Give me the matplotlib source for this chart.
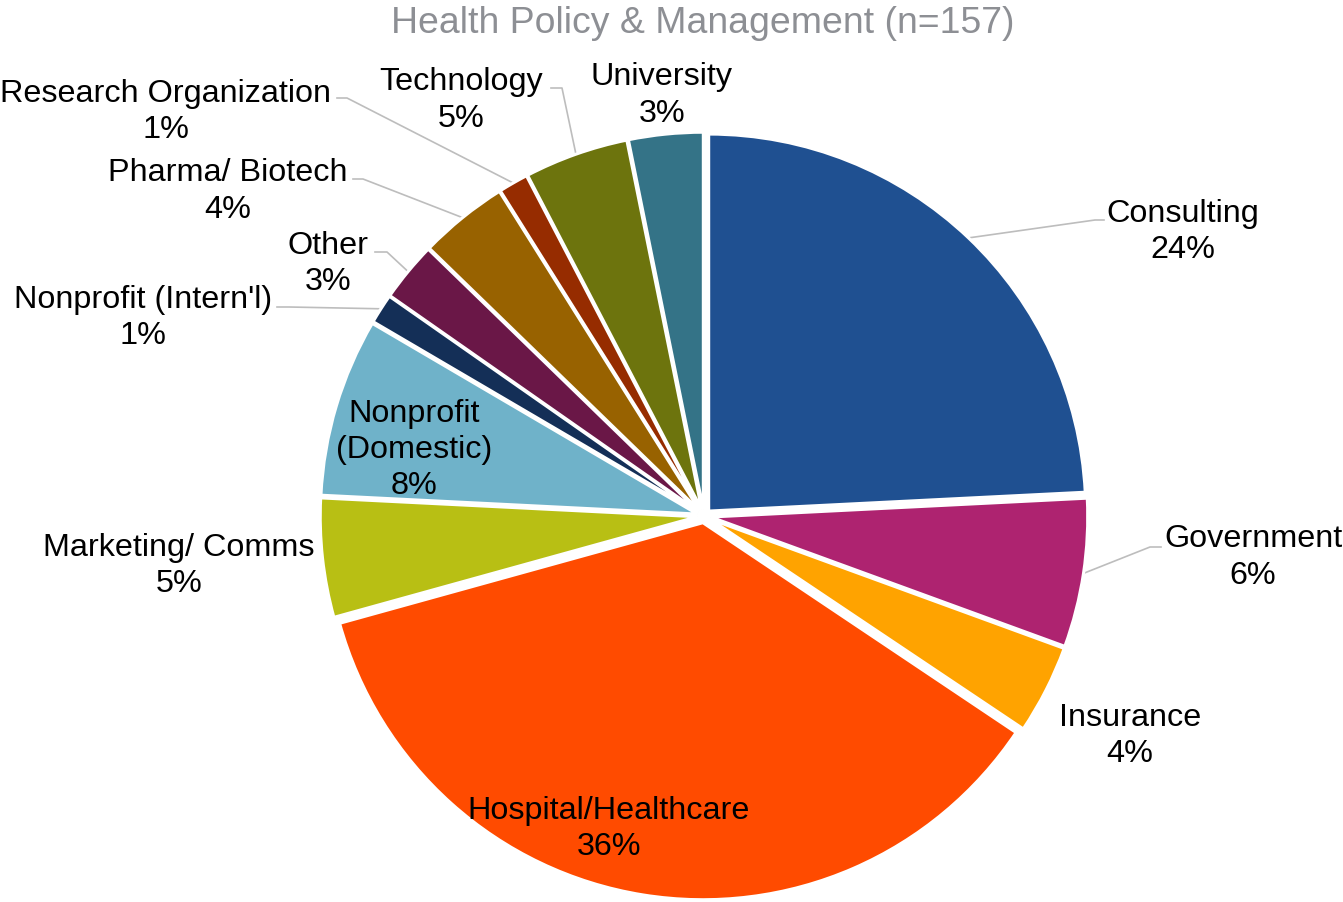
import numpy as np
import matplotlib
matplotlib.use('Agg')
from matplotlib import pyplot as plt

categories = ['Consulting', 'Government', 'Insurance', 'Hospital/Healthcare',
              'Marketing/ Comms', 'Nonprofit\n(Domestic)', "Nonprofit (Intern'l)",
              'Other', 'Pharma/ Biotech', 'Research Organization', 'Technology',
              'University']
counts = [38, 10, 6, 57, 8, 12, 2, 4, 6, 2, 7, 5]
pct_labels = ['24%', '6%', '4%', '36%', '5%', '8%', '1%', '3%', '4%', '1%', '5%', '3%']
colors = ['#1F5091', '#AE2370', '#FFA300', '#FF4B00', '#B8BF14', '#6FB2C9',
          '#142F57', '#6A1747', '#986200', '#962C00', '#6D740D', '#347387']

W, H = 1343, 903
plt.rcParams['font.family'] = ['Liberation Sans', 'DejaVu Sans']

# label positions in picture pixels (x centre, baseline of first line)
label_xy = [(1183, 222), (1253, 547), (1130, 726), (609, 819), (179, 556),
            (414, 421), (143, 308), (328, 254), (228, 181), (166, 102),
            (461, 90), (662, 85)]
line_step = 36.5
# leader lines: slice index -> (elbow, end next to text), picture pixels
leaders = {0: ((1095, 221), (1104, 221)),
           1: ((1150, 548), (1161, 548)),
           6: ((289, 308), (277, 308)),
           7: ((387, 253), (375, 253)),
           8: ((363, 180), (353, 180)),
           9: ((347, 99), (337, 99)),
           10: ((562, 89), (551, 89))}

fig = plt.figure(figsize=(W / 100, H / 100), dpi=100)
ax = fig.add_axes([0, 0, 1, 1])

r = 377
wedges, _ = ax.pie(counts, colors=colors, startangle=90, counterclock=False,
                   radius=r, center=(704, H - 517), explode=[6.8] * len(counts),
                   wedgeprops=dict(edgecolor='white', linewidth=2.2))
ax.set_xlim(0, W)
ax.set_ylim(0, H)
ax.set_aspect('auto')
ax.axis('off')

for i, (elbow, end) in leaders.items():
    w = wedges[i]
    th = np.radians((w.theta1 + w.theta2) / 2)
    rim = (w.center[0] + w.r * np.cos(th), w.center[1] + w.r * np.sin(th))
    ax.plot([rim[0], elbow[0], end[0]], [rim[1], H - elbow[1], H - end[1]],
            color='#BDBDBD', lw=1.2, zorder=0.5)

for i, name in enumerate(categories):
    txt = name + '\n' + pct_labels[i]
    x, y = label_xy[i]
    # va='baseline' sits on the last line
    y_last = y + line_step * txt.count('\n')
    ax.text(x, H - y_last, txt, ha='center', va='baseline',
            fontsize=23.3, linespacing=1.27, multialignment='center', color='black')

ax.text(703, H - 33, 'Health Policy & Management (n=%d)' % sum(counts),
        ha='center', va='baseline', fontsize=26.9, color='#8D8F94')

fig.savefig('out.png', dpi=100)
